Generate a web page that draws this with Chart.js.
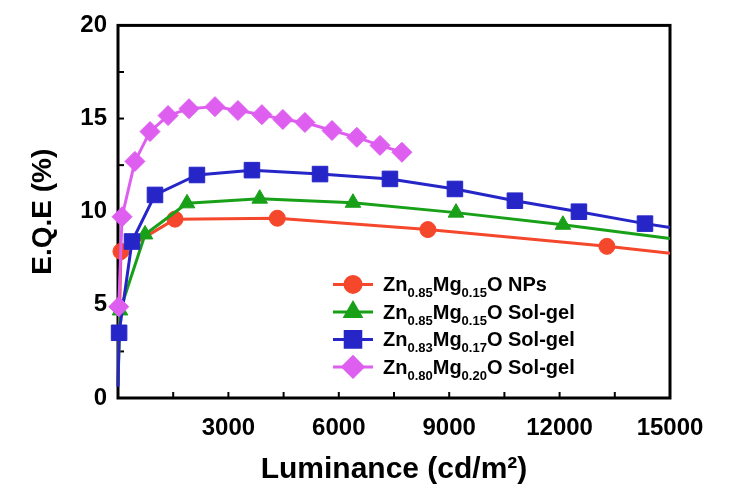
<!DOCTYPE html>
<html><head><meta charset="utf-8">
<script src="https://cdn.jsdelivr.net/npm/chart.js@4"></script>
<style>html,body{margin:0;padding:0;background:#fff}#wrap{width:732px;height:489px}</style>
</head><body><div id="wrap"><canvas id="c" width="732" height="489"></canvas></div>
<script>
// Luminance (cd/m^2) and E.Q.E (%) for each sample
const xNPs = [0, 80, 1550, 4330, 8420, 13285, 15000];
const yNPs = [0.7, 7.87, 9.6, 9.65, 9.04, 8.14, 7.77];
const xSol15 = [0, 55, 735, 1875, 3850, 6385, 9185, 12090, 15000];
const ySol15 = [0.7, 4.7, 8.78, 10.45, 10.7, 10.48, 9.95, 9.3, 8.56];
const xSol17 = [0, 30, 380, 1005, 2145, 3640, 5490, 7390, 9155, 10785, 12525, 14320, 15000];
const ySol17 = [0.6, 3.5, 8.4, 10.9, 11.97, 12.23, 12.02, 11.76, 11.22, 10.59, 10.0, 9.36, 9.15];
const xSol20 = [20, 110, 460, 870, 1360, 1930, 2635, 3260, 3910, 4480, 5080, 5815, 6490, 7120, 7715];
const ySol20 = [4.9, 9.73, 12.7, 14.3, 15.16, 15.53, 15.64, 15.43, 15.21, 14.95, 14.79, 14.36, 13.99, 13.56, 13.19];
// end points without markers (curve start/continuation)
const noMarkNPs = [0, 6];
const noMarkSol15 = [0, 8];
const noMarkSol17 = [0, 12];
const noMarkSol20 = [];

const xTicksLabeled = [3000, 6000, 9000, 12000, 15000];
const yTicksLabeled = [0, 5, 10, 15, 20];
const xTitle = 'Luminance (cd/m\u00B2)';
const yTitle = 'E.Q.E (%)';
// legend labels: [text, isSubscript]
const legendNPs = [['Zn',0],['0.85',1],['Mg',0],['0.15',1],['O NPs',0]];
const legendSol15 = [['Zn',0],['0.85',1],['Mg',0],['0.15',1],['O Sol-gel',0]];
const legendSol17 = [['Zn',0],['0.83',1],['Mg',0],['0.17',1],['O Sol-gel',0]];
const legendSol20 = [['Zn',0],['0.80',1],['Mg',0],['0.20',1],['O Sol-gel',0]];

const FONT = '"Liberation Sans", Arial, sans-serif';
const toPts = (xs, ys) => xs.map((x, i) => ({x, y: ys[i]}));
const radii = (xs, r, skip) => xs.map((_, i) => skip.includes(i) ? 0 : r);

function ds(label, xs, ys, color, style, r, skip, order, legend) {
  return {
    label, data: toPts(xs, ys), borderColor: color, backgroundColor: color,
    pointBackgroundColor: color, pointBorderColor: color, pointBorderWidth: 1,
    pointStyle: style, pointRadius: radii(xs, r, skip), pointHoverRadius: radii(xs, r, skip),
    borderWidth: 3, tension: 0, clip: false, order, legendParts: legend, legendRadius: r
  };
}

const datasets = [
  ds('NPs', xNPs, yNPs, '#F5472B', 'circle', 8, noMarkNPs, 3, legendNPs),
  ds('Sol15', xSol15, ySol15, '#18A018', 'triangle', 9, noMarkSol15, 2, legendSol15),
  ds('Sol17', xSol17, ySol17, '#2626C8', 'rect', 11, noMarkSol17, 1, legendSol17),
  ds('Sol20', xSol20, ySol20, '#DE5EF0', 'rectRot', 10, noMarkSol20, 0, legendSol20)
];

const frame = {
  id: 'frame',
  beforeDatasetsDraw(chart) {
    const {ctx, chartArea: a, scales: {x, y}} = chart;
    ctx.save();
    ctx.strokeStyle = '#000';
    ctx.lineWidth = 3;
    ctx.strokeRect(a.left, a.top, a.right - a.left, a.bottom - a.top);
    ctx.lineWidth = 2;
    x.ticks.forEach(t => {
      const px = x.getPixelForValue(t.value);
      if (px <= a.left + 2 || px >= a.right - 2) return;
      ctx.beginPath(); ctx.moveTo(px, a.bottom); ctx.lineTo(px, a.bottom - 6); ctx.stroke();
    });
    y.ticks.forEach(t => {
      const py = y.getPixelForValue(t.value);
      if (py <= a.top + 2 || py >= a.bottom - 2) return;
      ctx.beginPath(); ctx.moveTo(a.left, py); ctx.lineTo(a.left + 6, py); ctx.stroke();
    });
    ctx.restore();
  }
};

const legendPlug = {
  id: 'customLegend',
  afterDraw(chart) {
    const {ctx, chartArea: a} = chart;
    const x0 = a.left + 215, lineLen = 40, gap = 27.5, top = a.top + 259;
    ctx.save();
    chart.data.datasets.forEach((d, i) => {
      const yy = top + i * gap;
      ctx.strokeStyle = d.borderColor; ctx.lineWidth = 3;
      ctx.beginPath(); ctx.moveTo(x0, yy); ctx.lineTo(x0 + lineLen, yy); ctx.stroke();
      ctx.fillStyle = d.backgroundColor;
      Chart.helpers.drawPoint(ctx, {pointStyle: d.pointStyle, radius: d.legendRadius, rotation: 0, borderWidth: 1}, x0 + lineLen / 2, yy);
      ctx.fill();
      let tx = x0 + lineLen + 10;
      ctx.fillStyle = '#000';
      ctx.textBaseline = 'alphabetic';
      d.legendParts.forEach(([t, sub]) => {
        ctx.font = sub ? 'bold 13px ' + FONT : 'bold 20px ' + FONT;
        ctx.fillText(t, tx, yy + 7 + (sub ? 6 : 0));
        tx += ctx.measureText(t).width;
      });
    });
    ctx.restore();
  }
};

new Chart(document.getElementById('c'), {
  type: 'line',
  data: {datasets},
  options: {
    responsive: false, animation: false, devicePixelRatio: 1,
    layout: {padding: {top: 22, right: 62, left: 0, bottom: 0}},
    plugins: {legend: {display: false}, tooltip: {enabled: false}},
    elements: {line: {borderJoinStyle: 'round'}},
    scales: {
      x: {
        type: 'linear', min: 0, max: 15000,
        afterFit: s => { s.height = 91; },
        grid: {display: false, drawTicks: false}, border: {display: false},
        ticks: {stepSize: 1500, autoSkip: false, maxRotation: 0, padding: 16, color: '#000',
          font: {family: FONT, size: 24, weight: 'bold'},
          callback: v => xTicksLabeled.includes(v) ? String(v) : ''},
        title: {display: true, text: xTitle, color: '#000', padding: {top: 0, bottom: 1},
          font: {family: FONT, size: 30, weight: 'bold'}}
      },
      y: {
        type: 'linear', min: 0, max: 20,
        afterFit: s => { s.width = 118; },
        grid: {display: false, drawTicks: false}, border: {display: false},
        ticks: {stepSize: 2.5, autoSkip: false, padding: 11, color: '#000',
          font: {family: FONT, size: 24, weight: 'bold'},
          callback: v => yTicksLabeled.includes(v) ? String(v) : ''},
        title: {display: true, text: yTitle, color: '#000', padding: {top: 26, bottom: 0},
          font: {family: FONT, size: 28, weight: 'bold'}}
      }
    }
  },
  plugins: [frame, legendPlug]
});
</script></body></html>
